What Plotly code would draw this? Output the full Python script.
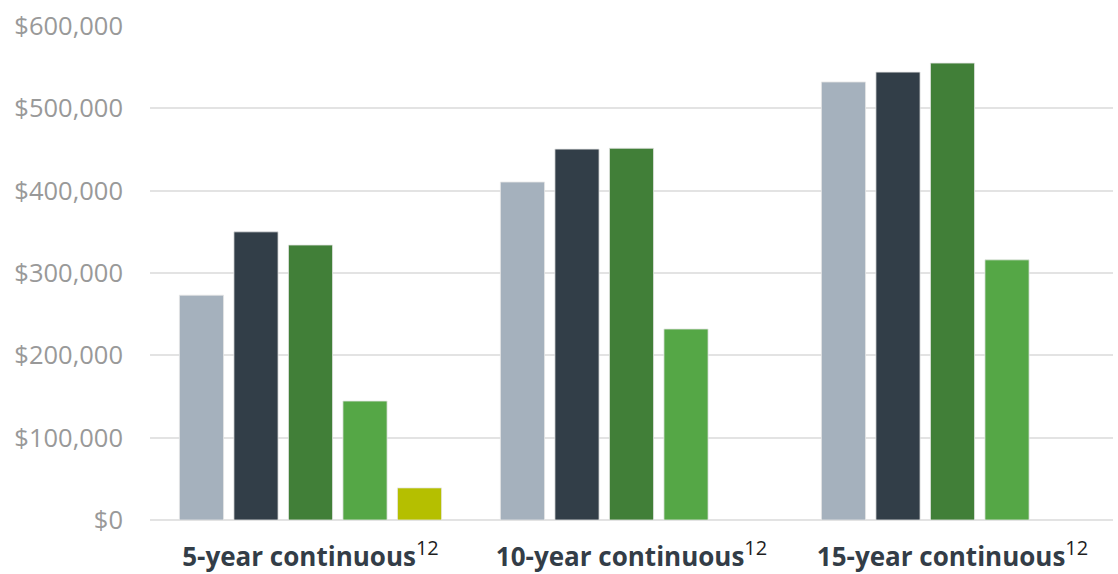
import plotly.graph_objects as go

categories = [
    "<b>5-year continuous</b><sup><span style='color:#1e1e1e;font-size:20px'>12</span></sup>",
    "<b>10-year continuous</b><sup><span style='color:#1e1e1e;font-size:20px'>12</span></sup>",
    "<b>15-year continuous</b><sup><span style='color:#1e1e1e;font-size:20px'>12</span></sup>",
]

series_a = [273000, 410500, 532000]
series_b = [350000, 450500, 544000]
series_c = [334000, 451500, 555000]
series_d = [144500, 232000, 316000]
series_e = [39000, None, None]

series_names = ["Series A", "Series B", "Series C", "Series D", "Series E"]
series_values = [series_a, series_b, series_c, series_d, series_e]
series_colors = ["#a5b1bd", "#323e48", "#417f38", "#55a746", "#b5bf00"]

y_ticks = [0, 100000, 200000, 300000, 400000, 500000, 600000]
y_tick_labels = ["$0", "$100,000", "$200,000", "$300,000", "$400,000", "$500,000", "$600,000"]

fig = go.Figure()
for name, vals, color in zip(series_names, series_values, series_colors):
    fig.add_trace(go.Bar(
        x=categories,
        y=vals,
        name=name,
        marker=dict(color=color, line=dict(color="rgba(230,230,230,0.8)", width=1)),
    ))

fig.update_layout(
    width=1118,
    height=574,
    margin=dict(l=150, r=5, t=26, b=54),
    paper_bgcolor="white",
    plot_bgcolor="white",
    barmode="group",
    bargap=0.151,
    bargroupgap=0.19,
    showlegend=False,
    font=dict(family="Open Sans, sans-serif"),
)

fig.update_yaxes(
    range=[0, 600000],
    tickvals=y_ticks,
    ticktext=y_tick_labels,
    showgrid=True,
    gridcolor="#e3e3e3",
    gridwidth=2,
    zeroline=True,
    zerolinecolor="#e3e3e3",
    zerolinewidth=2,
    tickfont=dict(size=25.5, color="#999999", family="Open Sans, sans-serif"),
    ticks="",
    ticklabelstandoff=26,
    automargin=False,
)

fig.update_xaxes(
    tickfont=dict(size=26, color="#333d47", family="Open Sans, sans-serif"),
    ticks="",
    showline=False,
    ticklabelstandoff=19,
    automargin=False,
)

fig.write_html("out.html")
